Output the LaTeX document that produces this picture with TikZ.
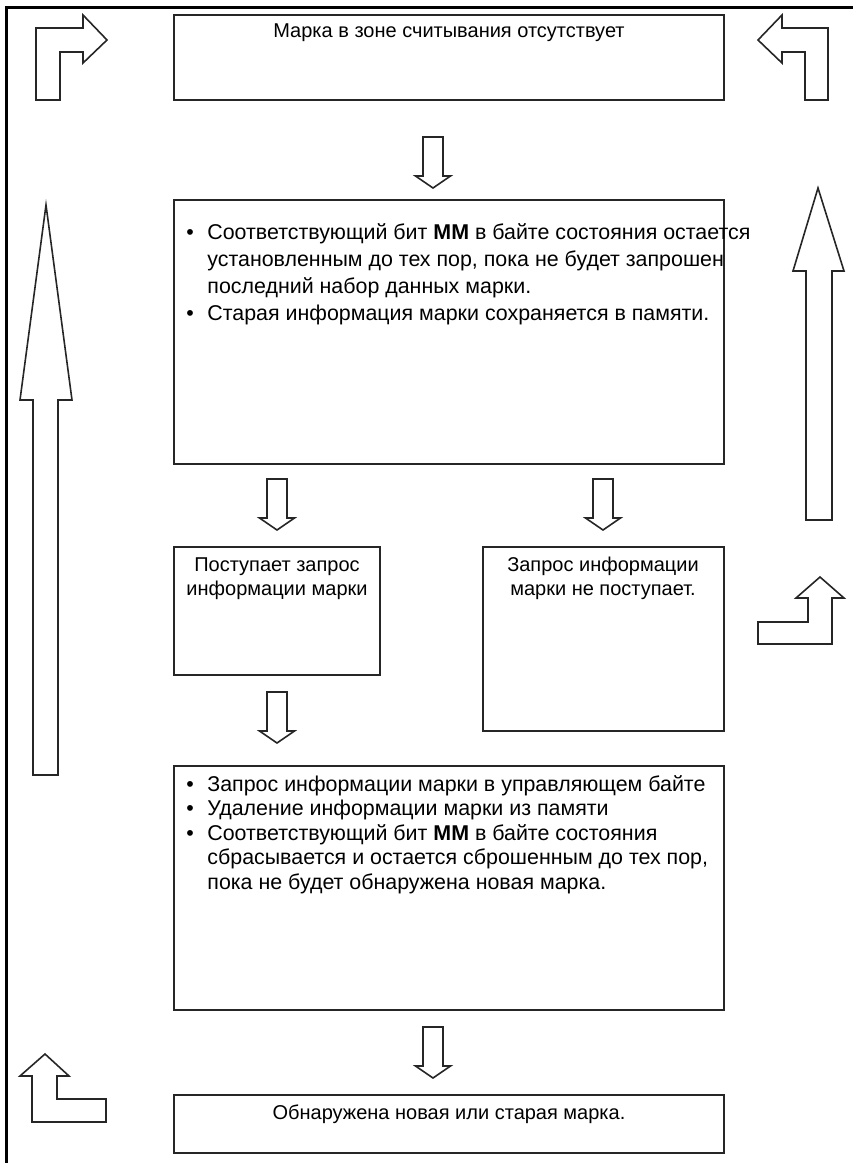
\documentclass[tikz,border=0pt]{standalone}
\usepackage{fontspec}
\setmainfont{Liberation Sans}
\usepackage{tikz}
\newcommand{\bul}{\makebox[10.5pt][l]{\textbullet}}
\newcommand{\ind}{\hspace*{10.5pt}}
\newcommand{\downblock}[2]{%
  \draw[blockarrow,shift={(#1,#2)}] (-10,0) -- (10,0) -- (10,39) -- (17.5,39)
    -- (0,51) -- (-17.5,39) -- (-10,39) -- cycle;}

\begin{document}
\begin{tikzpicture}[x=0.5pt,y=-0.5pt,
    box/.style={draw=black!85,line width=1pt},
    blockarrow/.style={draw=black!85,line width=0.8pt,line join=miter},
    txt/.style={inner sep=0pt,font=\fontsize{10}{13.5}\selectfont}]
    \useasboundingbox (0,0) rectangle (853,1163);
    % frame
    \draw[line width=1.5pt] (6,1163) -- (6,7) -- (853,7);

    % boxes
    \draw[box] (174,15) rectangle (724,100);
    \draw[box] (174,200) rectangle (724,464);
    \draw[box] (174,547) rectangle (380,675);
    \draw[box] (483,547) rectangle (724,731);
    \draw[box] (174,766) rectangle (724,1010);
    \draw[box] (174,1095) rectangle (724,1153);

    % texts
    \node[txt,anchor=base] (absent) at (449,37) {Марка в зоне считывания отсутствует};
    \node[txt,anchor=north west,align=left,
          font=\fontsize{10.7}{13.5}\selectfont] (hold) at (186,223)
      {\bul Соответствующий бит \textbf{ММ} в байте состояния остается\\
       \ind установленным до тех пор, пока не будет запрошен\\
       \ind последний набор данных марки.\\
       \bul Старая информация марки сохраняется в памяти.};
    \node[txt,anchor=north,align=center,font=\fontsize{10}{12}\selectfont] (req) at (277,557)
      {Поступает запрос\\информации марки};
    \node[txt,anchor=north,align=center,font=\fontsize{10}{12}\selectfont] (noreq) at (603,557)
      {Запрос информации\\марки не поступает.};
    \node[txt,anchor=north west,align=left,
          font=\fontsize{10.7}{12.25}\selectfont] (clear) at (186,775)
      {\bul Запрос информации марки в управляющем байте\\
       \bul Удаление информации марки из памяти\\
       \bul Соответствующий бит \textbf{ММ} в байте состояния\\
       \ind сбрасывается и остается сброшенным до тех пор,\\
       \ind пока не будет обнаружена новая марка.};
    \node[txt,anchor=base] (found) at (449,1119) {Обнаружена новая или старая марка.};

    % small arrows between boxes
    \downblock{433}{137}
    \downblock{277}{479}
    \downblock{603}{479}
    \downblock{277}{692}
    \downblock{433}{1027}

    % bent arrows
    \draw[blockarrow] (36,100) -- (36,28) -- (83,28) -- (83,15) -- (107,40)
      -- (83,63) -- (83,52) -- (60,52) -- (60,100) -- cycle;
    \draw[blockarrow] (828,100) -- (828,28) -- (782,28) -- (782,15) -- (758,40)
      -- (782,63) -- (782,52) -- (805,52) -- (805,100) -- cycle;
    \draw[blockarrow] (758,622) -- (808,622) -- (808,598) -- (796,598) -- (820,577)
      -- (844,598) -- (832,598) -- (832,644) -- (758,644) -- cycle;
    \draw[blockarrow] (32,1122) -- (32,1076) -- (20,1076) -- (45,1054) -- (69,1076)
      -- (57,1076) -- (57,1099) -- (106,1099) -- (106,1122) -- cycle;

    % long arrows
    \draw[blockarrow] (33,775) -- (33,400) -- (20,400) -- (46,205) -- (72,400)
      -- (58,400) -- (58,775) -- cycle;
    \draw[blockarrow] (806,520) -- (806,271) -- (793,271) -- (818,188) -- (844,271)
      -- (832,271) -- (832,520) -- cycle;
\end{tikzpicture}
\end{document}
